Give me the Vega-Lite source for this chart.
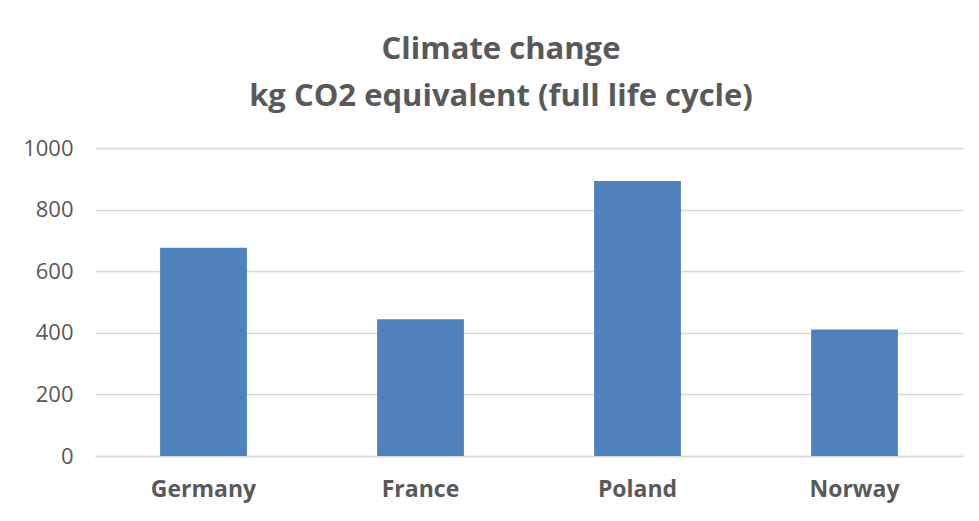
{
  "$schema": "https://vega.github.io/schema/vega-lite/v6.json",
  "autosize": {"type": "none"},
  "width": 868,
  "height": 308,
  "padding": {"left": 95, "top": 148, "right": 16, "bottom": 65},
  "background": "white",
  "title": {
    "text": ["Climate change", "kg CO2 equivalent (full life cycle)"],
    "font": "Open Sans",
    "fontSize": 31,
    "fontWeight": "bold",
    "color": "#595959",
    "lineHeight": 47,
    "anchor": "middle",
    "dx": -28,
    "offset": 24
  },
  "data": {
    "values": [
      {"country": "Germany", "value": 676},
      {"country": "France", "value": 444},
      {"country": "Poland", "value": 893},
      {"country": "Norway", "value": 411}
    ]
  },
  "mark": {"type": "bar", "color": "#4F81BD"},
  "encoding": {
    "x": {
      "field": "country",
      "type": "nominal",
      "sort": null,
      "scale": {"paddingInner": 0.6, "paddingOuter": 0.3},
      "axis": {
        "title": null,
        "labelAngle": 0,
        "labelFont": "Open Sans",
        "labelFontSize": 23,
        "labelFontWeight": "bold",
        "labelColor": "#595959",
        "labelPadding": 22,
        "ticks": false,
        "domainColor": "#D9D9D9",
        "domainWidth": 1.5
      }
    },
    "y": {
      "field": "value",
      "type": "quantitative",
      "scale": {"domain": [0, 1000]},
      "axis": {
        "title": null,
        "values": [0, 200, 400, 600, 800, 1000],
        "format": "d",
        "labelFont": "Open Sans",
        "labelFontSize": 22,
        "labelColor": "#595959",
        "labelPadding": 22,
        "ticks": false,
        "domain": false,
        "gridColor": "#D9D9D9",
        "gridWidth": 1.5
      }
    }
  },
  "config": {"view": {"stroke": null}}
}
